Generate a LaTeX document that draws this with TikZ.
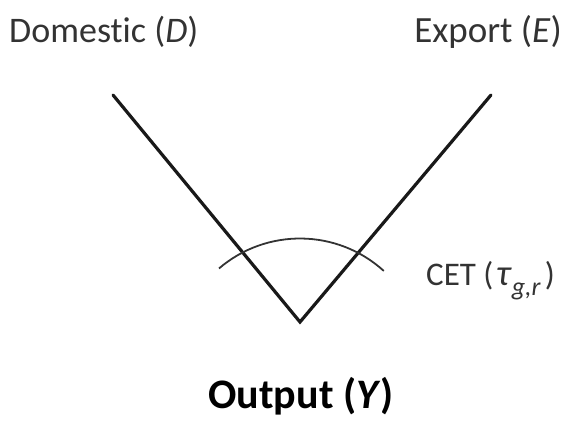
\documentclass[tikz,border=0pt]{standalone}
\usepackage{fontspec}
\setmainfont{Carlito}[Ligatures=NoCommon]
\begin{document}
\begin{tikzpicture}[x=1pt,y=-1pt,
  lbl/.style={inner sep=0pt, text=black!80, font=\fontsize{36}{40}\selectfont},
  leg/.style={line width=3.2pt, black!90, line cap=round, line join=miter},
  cet/.style={line width=1.8pt, black!80}]
\useasboundingbox (0,0) rectangle (567,423);
\node[lbl, anchor=base west] (D) at (9,42) {Domestic (\textit{D})};
\node[lbl, anchor=base east, font=\fontsize{37}{40}\selectfont] (E) at (562,42) {Export (\textit{E})};
\coordinate (dtop) at (113,95);
\coordinate (etop) at (491,95);
\coordinate (Y0) at (300,322);
\draw[leg] (dtop) -- (Y0) -- (etop);
\coordinate (ac) at (300,363);
\draw[cet] ([shift={(-130.6:124.5)}]ac) arc[start angle=-130.6, end angle=-47.7, radius=124.5];
\node[lbl, anchor=base west, font=\fontsize{33}{38}\selectfont] (C) at (426,285) {CET (\kern0.08em{\fontsize{37}{40}\selectfont\textit{τ}}\raisebox{-0.32em}{\fontsize{26}{28}\selectfont\textit{g,r}}\kern0.12em)};
\node[lbl, anchor=base, text=black, font=\fontsize{42}{46}\selectfont\bfseries] (Y) at (301,408) {Output (\textit{Y})};
\end{tikzpicture}
\end{document}
